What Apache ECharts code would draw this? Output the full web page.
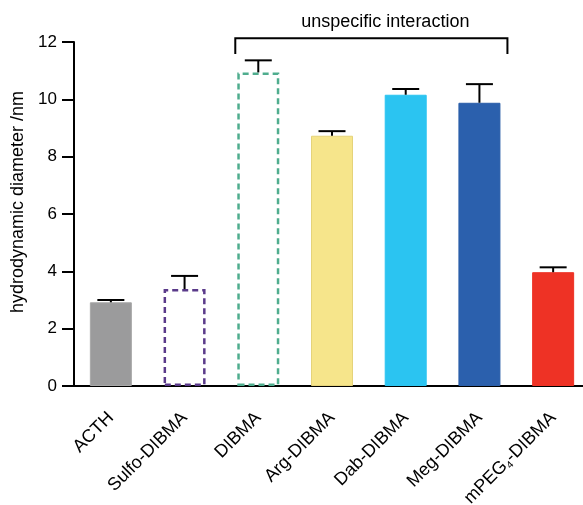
<!DOCTYPE html>
<html><head><meta charset="utf-8">
<script src="https://cdn.jsdelivr.net/npm/echarts@6/dist/echarts.min.js"></script>
<style>html,body{margin:0;padding:0;background:#fff;overflow:hidden}#c{width:590px;height:505px}</style>
</head><body><div id="c"></div>
<script>
const categories = ['ACTH','Sulfo-DIBMA','DIBMA','Arg-DIBMA','Dab-DIBMA','Meg-DIBMA','mPEG4-DIBMA'];
const means = [2.92, 3.38, 10.94, 8.73, 10.16, 9.88, 3.97];
const errors = [0.08, 0.46, 0.42, 0.16, 0.2, 0.65, 0.17];
const yTicks = [0, 2, 4, 6, 8, 10, 12];
const annotation = 'unspecific interaction';

const fills = ['#9b9b9c','#ffffff','#ffffff','#f6e58b','#2bc4f1','#2b60ad','#ee3225'];
const borders = ['#a8a8a8','#5a3a8a','#4fad8e','#e5d37a','#2bc4f1','#2b5ea9','#ee3225'];
const dashed = [false,true,true,false,false,false,false];

const chart = echarts.init(document.getElementById('c'));
const F = 'Liberation Sans, Arial, sans-serif';
chart.setOption({
  animation:false,
  grid:{left:74, right:0, top:42, bottom:119, containLabel:false, outerBoundsMode:'none'},
  xAxis:{type:'category', data:categories,
    axisLine:{lineStyle:{color:'#000', width:2}},
    axisTick:{alignWithLabel:true, length:13, lineStyle:{width:2,color:'#000'}},
    axisLabel:{rotate:45, margin:29, interval:0, color:'#000', fontFamily:F, fontSize:18,
      formatter:v=> v==='mPEG4-DIBMA' ? '{a|mPEG}{s|4}{a|-DIBMA}' : '{a|'+v+'}',
      rich:{a:{fontFamily:F,fontSize:18,color:'#000'},s:{fontFamily:F,fontSize:10,color:'#000',verticalAlign:'bottom',padding:[10,0,0,0]}}}},
  yAxis:{type:'value', min:yTicks[0], max:yTicks[yTicks.length-1], interval:2,
    name:'hydrodynamic diameter /nm', nameLocation:'middle', nameGap:47, nameRotate:90,
    nameTextStyle:{fontFamily:F, fontSize:18, color:'#000', padding:[0,0,0,24]},
    axisLine:{show:true, lineStyle:{color:'#000', width:2}},
    axisTick:{show:true, length:12, lineStyle:{width:2,color:'#000'}},
    axisLabel:{margin:17, color:'#000', fontFamily:F, fontSize:17},
    splitLine:{show:false}},
  series:[
    {type:'bar', barWidth:42, z:2,
     data: means.map((v,i)=>({value:v, itemStyle:{color:fills[i], borderColor:borders[i],
        borderWidth: dashed[i]?2.5:1, borderType: dashed[i]?[6,4]:'solid'}}))},
    {type:'custom', z:3, clip:false,
     renderItem:(params, api)=>{
       const i = api.value(0), m = api.value(1), e = api.value(2);
       const p0 = api.coord([i, m]), p1 = api.coord([i, m+e]);
       const hw = 13.5;
       return {type:'group', children:[
         {type:'line', shape:{x1:p0[0],y1:p0[1],x2:p1[0],y2:p1[1]}, style:{stroke:'#000',lineWidth:2}},
         {type:'line', shape:{x1:p1[0]-hw,y1:p1[1],x2:p1[0]+hw,y2:p1[1]}, style:{stroke:'#000',lineWidth:2}}
       ]};
     },
     data: means.map((v,i)=>[i, v, errors[i]])},
    {type:'custom', z:3, clip:false, silent:true,
     renderItem:(params, api)=>{
       const a = api.coord([2, 12.13]), b = api.coord([5, 12.13]);
       const lo = api.coord([2, 11.58]);
       const x1 = a[0]-23, x2 = b[0]+28;
       return {type:'group', children:[
         {type:'polyline', shape:{points:[[x1,lo[1]],[x1,a[1]],[x2,a[1]],[x2,lo[1]]]}, style:{stroke:'#000',lineWidth:2,fill:null}},
         {type:'text', style:{text:annotation, x:(x1+x2)/2+14, y:a[1]-16, align:'center', verticalAlign:'middle', font:'18px '+F, fill:'#000'}}
       ]};
     },
     data:[[0]]}
  ]
});
</script></body></html>
